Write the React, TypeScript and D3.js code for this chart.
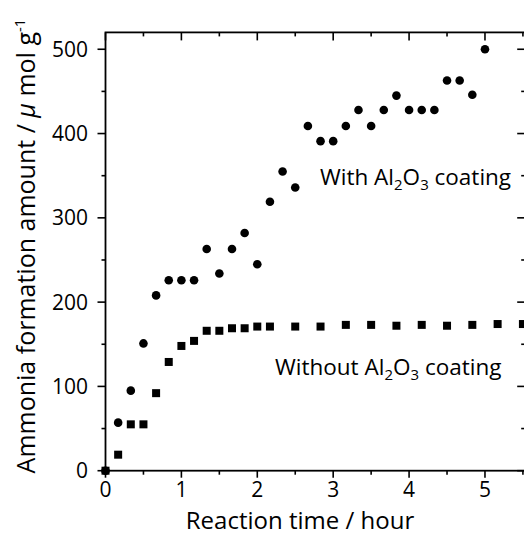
import * as d3 from 'd3';

// Time points in hours (10-min steps), amounts in µmol g^-1
const withTimes = [0, 1/6, 2/6, 3/6, 4/6, 5/6, 1, 7/6, 8/6, 9/6, 10/6, 11/6, 2, 13/6, 14/6, 15/6, 16/6, 17/6, 18/6, 19/6, 20/6, 21/6, 22/6, 23/6, 24/6, 25/6, 26/6, 27/6, 28/6, 29/6, 5];
const withValues = [0, 57, 95, 151, 208, 226, 226, 226, 263, 234, 263, 282, 245, 319, 355, 336, 409, 391, 391, 409, 428, 409, 428, 445, 428, 428, 428, 463, 463, 446, 500];

const withoutTimes = [0, 1/6, 2/6, 3/6, 4/6, 5/6, 1, 7/6, 8/6, 9/6, 10/6, 11/6, 2, 13/6, 2.5, 17/6, 19/6, 3.5, 23/6, 25/6, 4.5, 29/6, 31/6, 5.5];
const withoutValues = [0, 19, 55, 55, 92, 129, 148, 154, 166, 166, 169, 169, 171, 171, 171, 171, 173, 173, 172, 173, 172, 173, 174, 174];

const xMajor = [0, 1, 2, 3, 4, 5];
const xMinor = [0.5, 1.5, 2.5, 3.5, 4.5, 5.5];
const yMajor = [0, 100, 200, 300, 400, 500];
const yMinor = [50, 150, 250, 350, 450];

const W = 524;
const H = 536;
const FONT = '"Open Sans", "Noto Sans", sans-serif';

export default function App() {
  const x = d3.scaleLinear().domain([0, 5.53]).range([105.5, 525.2]);
  const y = d3.scaleLinear().domain([0, 520]).range([470.7, 32.4]);

  const [x0, x1] = x.range();
  const [y0, y1] = y.range();
  const sq = 8;

  return (
    <svg width={W} height={H} style={{ position: 'absolute', left: 0, top: 0, background: '#fff' }}
      fontFamily={FONT}>
      {/* frame */}
      <rect x={x0} y={y1} width={x1 - x0} height={y0 - y1} fill="none" stroke="#000" strokeWidth={1.8} />

      {/* bottom ticks (outward) + top ticks (inward) */}
      {xMajor.map(t => (
        <g key={'xM' + t}>
          <line x1={x(t)} x2={x(t)} y1={y0} y2={y0 + 7} stroke="#000" strokeWidth={1.6} />
          <line x1={x(t)} x2={x(t)} y1={y1} y2={y1 + 8} stroke="#000" strokeWidth={1.6} />
          <text x={x(t)} y={497} textAnchor="middle" fontSize={21}>{t}</text>
        </g>
      ))}
      {xMinor.map(t => (
        <g key={'xm' + t}>
          <line x1={x(t)} x2={x(t)} y1={y0} y2={y0 + 4} stroke="#000" strokeWidth={1.6} />
          <line x1={x(t)} x2={x(t)} y1={y1} y2={y1 + 4} stroke="#000" strokeWidth={1.6} />
        </g>
      ))}

      {/* left ticks (outward) + right ticks (inward) */}
      {yMajor.map(t => (
        <g key={'yM' + t}>
          <line x1={x0 - 8} x2={x0} y1={y(t)} y2={y(t)} stroke="#000" strokeWidth={1.6} />
          <line x1={x1 - 8} x2={x1} y1={y(t)} y2={y(t)} stroke="#000" strokeWidth={1.6} />
          <text x={88} y={y(t)} dy="0.36em" textAnchor="end" fontSize={21}>{t}</text>
        </g>
      ))}
      {yMinor.map(t => (
        <g key={'ym' + t}>
          <line x1={x0 - 4} x2={x0} y1={y(t)} y2={y(t)} stroke="#000" strokeWidth={1.6} />
          <line x1={x1 - 4} x2={x1} y1={y(t)} y2={y(t)} stroke="#000" strokeWidth={1.6} />
        </g>
      ))}

      {/* without coating: squares */}
      {withoutTimes.map((t, i) => (
        <rect key={'s' + i} x={x(t) - sq / 2} y={y(withoutValues[i]) - sq / 2} width={sq} height={sq} fill="#000" />
      ))}
      {/* with coating: circles */}
      {withTimes.map((t, i) => (
        <circle key={'c' + i} cx={x(t)} cy={y(withValues[i])} r={4.3} fill="#000" />
      ))}

      {/* annotations */}
      <text x={320} y={185} fontSize={22.5}>
        With Al<tspan fontSize={15} dy={5}>2</tspan><tspan dy={-5}>O</tspan><tspan fontSize={15} dy={5}>3</tspan><tspan dy={-5}> coating</tspan>
      </text>
      <text x={275} y={375} fontSize={22.5}>
        Without Al<tspan fontSize={15} dy={5}>2</tspan><tspan dy={-5}>O</tspan><tspan fontSize={15} dy={5}>3</tspan><tspan dy={-5}> coating</tspan>
      </text>

      {/* axis titles */}
      <text x={300} y={529} textAnchor="middle" fontSize={24}>Reaction time / hour</text>
      <text transform="translate(35,246) rotate(-90)" textAnchor="middle" fontSize={25}>
        Ammonia formation amount / <tspan fontStyle="italic">μ</tspan> mol g<tspan fontSize={15} dy={-10}>-1</tspan>
      </text>
    </svg>
  );
}
